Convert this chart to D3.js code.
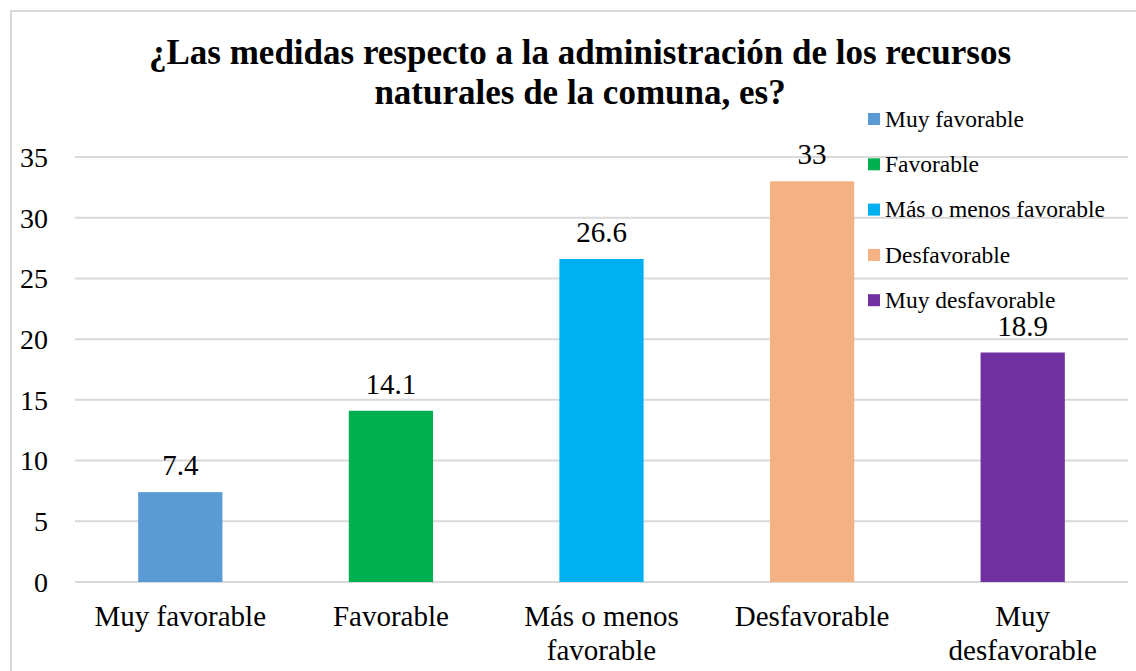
<!DOCTYPE html>
<html>
<head>
  <meta charset="UTF-8">
  <title>Medidas recursos naturales</title>
  <script src="https://d3js.org/d3.v7.min.js"></script>
  <style>
    body { margin: 0; background: #fff; }
    .grid line { stroke: #d9d9d9; stroke-width: 2; }
  </style>
</head>
<body>
<svg id="chart" width="1136" height="671"></svg>
<script>
  const categories = ["Muy favorable", "Favorable", "Más o menos favorable", "Desfavorable", "Muy desfavorable"];
  const axisLabels = [["Muy favorable"], ["Favorable"], ["Más o menos", "favorable"], ["Desfavorable"], ["Muy", "desfavorable"]];
  const values = [7.4, 14.1, 26.6, 33, 18.9];
  const colors = ["#5b9bd5", "#00b050", "#00b0f0", "#f4b183", "#7030a0"];
  const yTicks = [0, 5, 10, 15, 20, 25, 30, 35];

  const width = 1136, height = 671;
  const margin = { top: 157, right: 8, bottom: 89, left: 75 };
  const FONT = "Liberation Serif";

  const svg = d3.select("#chart");

  // outer chart border
  svg.append("rect")
     .attr("x", 11).attr("y", 11)
     .attr("width", width + 10).attr("height", height + 10)
     .attr("fill", "none").attr("stroke", "#d9d9d9").attr("stroke-width", 2);

  const x = d3.scaleBand()
              .domain(categories)
              .range([margin.left, width - margin.right])
              .paddingInner(0.6)
              .paddingOuter(0.3);

  const y = d3.scaleLinear()
              .domain([0, 35])
              .range([height - margin.bottom, margin.top]);

  // gridlines
  svg.append("g").attr("class", "grid")
     .selectAll("line").data(yTicks).join("line")
     .attr("x1", margin.left).attr("x2", width - margin.right)
     .attr("y1", d => y(d)).attr("y2", d => y(d));

  // y tick labels
  svg.append("g").selectAll("text").data(yTicks).join("text")
     .attr("x", 48).attr("y", d => y(d)).attr("dy", "0.35em")
     .attr("text-anchor", "end")
     .style("font-family", FONT).style("font-size", "28px")
     .text(d => d);

  // bars
  svg.append("g").selectAll("rect").data(values).join("rect")
     .attr("x", (d, i) => x(categories[i]))
     .attr("y", d => y(d))
     .attr("width", x.bandwidth())
     .attr("height", d => y(0) - y(d))
     .attr("fill", (d, i) => colors[i]);

  // value labels
  svg.append("g").selectAll("text").data(values).join("text")
     .attr("x", (d, i) => x(categories[i]) + x.bandwidth() / 2)
     .attr("y", d => y(d) - 17)
     .attr("text-anchor", "middle")
     .style("font-family", FONT).style("font-size", "29px")
     .text(d => d);

  // category labels
  const cat = svg.append("g").selectAll("text").data(axisLabels).join("text")
     .attr("x", (d, i) => x(categories[i]) + x.bandwidth() / 2)
     .attr("y", 626)
     .attr("text-anchor", "middle")
     .style("font-family", FONT).style("font-size", "29px");
  cat.selectAll("tspan").data(d => d).join("tspan")
     .attr("x", function() { return d3.select(this.parentNode).attr("x"); })
     .attr("dy", (d, i) => i === 0 ? 0 : 34)
     .text(d => d);

  // title
  const title = svg.append("text")
     .attr("x", 580).attr("y", 64)
     .attr("text-anchor", "middle")
     .style("font-family", FONT).style("font-size", "35px").style("font-weight", "bold");
  title.append("tspan").attr("x", 580).text("¿Las medidas respecto a la administración de los recursos");
  title.append("tspan").attr("x", 580).attr("dy", 40).text("naturales de la comuna, es?");

  // legend
  const legend = svg.append("g").selectAll("g").data(categories).join("g")
     .attr("transform", (d, i) => `translate(868, ${119 + i * 45.3})`);
  legend.append("rect")
     .attr("x", 0).attr("y", -6).attr("width", 12).attr("height", 12)
     .attr("fill", (d, i) => colors[i]);
  legend.append("text")
     .attr("x", 17).attr("y", 0).attr("dy", "0.33em")
     .style("font-family", FONT).style("font-size", "23.5px")
     .text(d => d);
</script>
</body>
</html>
